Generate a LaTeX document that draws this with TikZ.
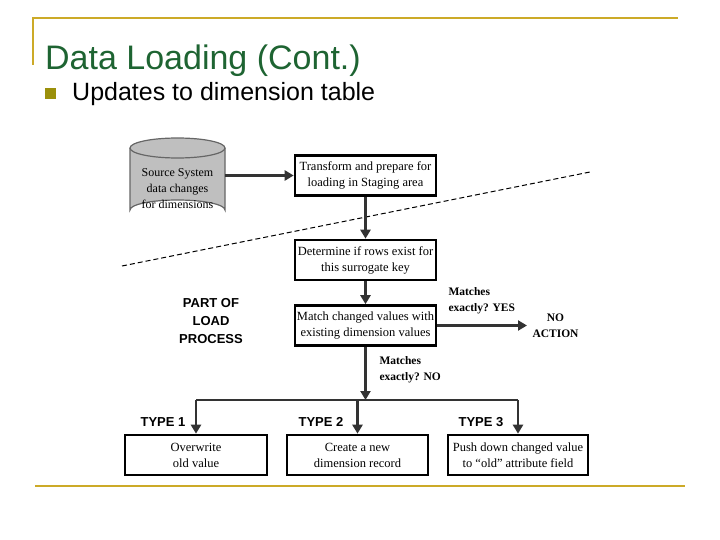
\documentclass[tikz,border=0pt]{standalone}
\usepackage{fontspec}
\setmainfont{Liberation Serif}
\setsansfont{Liberation Sans}
\usetikzlibrary{shapes.geometric,arrows.meta}
\begin{document}
\begin{tikzpicture}[x=1pt,y=-1pt,
 box/.style={draw,line width=2.6pt,minimum height=40pt,align=center,font=\fontsize{12.5}{16}\selectfont,inner sep=1pt},
 arr/.style={line width=2.6pt,draw=black!80,-{Triangle[length=9pt,width=10pt]}},
 lab/.style={font=\sffamily\bfseries\fontsize{13}{18}\selectfont,align=center},
 slab/.style={font=\bfseries\fontsize{11.5}{16}\selectfont,align=left}]
\useasboundingbox (0,0) rectangle (720,540);
\definecolor{gold}{RGB}{204,170,40}
\definecolor{tgreen}{RGB}{30,100,50}
\draw[gold,line width=2pt] (33,65) -- (33,18) -- (678,18);
\draw[gold,line width=2.5pt] (35,486) -- (685,486);
\node[anchor=base west,text=tgreen,font=\sffamily\fontsize{34}{36}\selectfont,inner sep=0] (t) at (45,70) {Data Loading (Cont.)};
\fill[olive!80!gold] (45,88) rectangle (56,99);
\node[anchor=base west,font=\sffamily\fontsize{25}{28}\selectfont,inner sep=0] (u) at (72,101) {Updates to dimension table};
\fill[black!25,draw=black!60,line width=1.2pt] (130,148) arc[start angle=180,end angle=360,x radius=47.5,y radius=10] -- (225,210) arc[start angle=0,end angle=-180,x radius=47.5,y radius=10] -- cycle;
\draw[black!60,line width=1.2pt] (130,148) arc[start angle=180,end angle=0,x radius=47.5,y radius=10];
\node[align=center,font=\fontsize{12}{16}\selectfont,inner sep=1pt,minimum width=95pt] (src) at (177.5,189) {Source System\\data changes\\for dimensions};
\node[box,minimum width=141pt] (tr) at (365.5,175.5) {Transform and prepare for\\loading in Staging area};
\node[box,minimum width=141pt] (de) at (365.5,260) {Determine if rows exist for\\this surrogate key};
\node[box,minimum width=141pt] (ma) at (365.5,325.5) {Match changed values with\\existing dimension values};
\node[box,minimum width=142pt] (t1) at (196,455) {Overwrite\\old value};
\node[box,minimum width=141pt] (t2) at (357.5,455) {Create a new\\dimension record};
\node[box,minimum width=140pt] (t3) at (518,455) {Push down changed value\\to “old” attribute field};
\draw[dashed,line width=1pt,dash pattern=on 5pt off 3pt] (122,266) -- (590,172);
\coordinate (se) at (225,175.5);
\draw[arr] (se) -- (tr.west);
\draw[arr] (tr) -- (de);
\draw[arr] (de) -- (ma);
\coordinate (na) at (527,325.5);
\draw[arr] (ma.east) -- (na);
\node[slab,align=center,anchor=west] (ny) at (529,325.5) {NO\\ACTION};
\coordinate (sp) at (365.5,400);
\draw[arr] (ma.south) -- (sp);
\draw[line width=2.6pt,draw=black!80] (t1.north|-sp) -- (t3.north|-sp);
\draw[arr] (t1.north|-sp) -- (t1.north);
\draw[arr] (t2.north|-sp) -- (t2.north);
\draw[arr] (t3.north|-sp) -- (t3.north);
\node[lab] (pl) at (211,321) {PART OF\\LOAD\\PROCESS};
\node[slab,anchor=west] (my) at (445,301) {Matches\\exactly? YES};
\node[slab,anchor=west] (mn) at (376,370) {Matches\\exactly? NO};
\node[lab] (l1) at (163,422) {TYPE 1};
\node[lab] (l2) at (321,422) {TYPE 2};
\node[lab] (l3) at (481,422) {TYPE 3};
\end{tikzpicture}
\end{document}
